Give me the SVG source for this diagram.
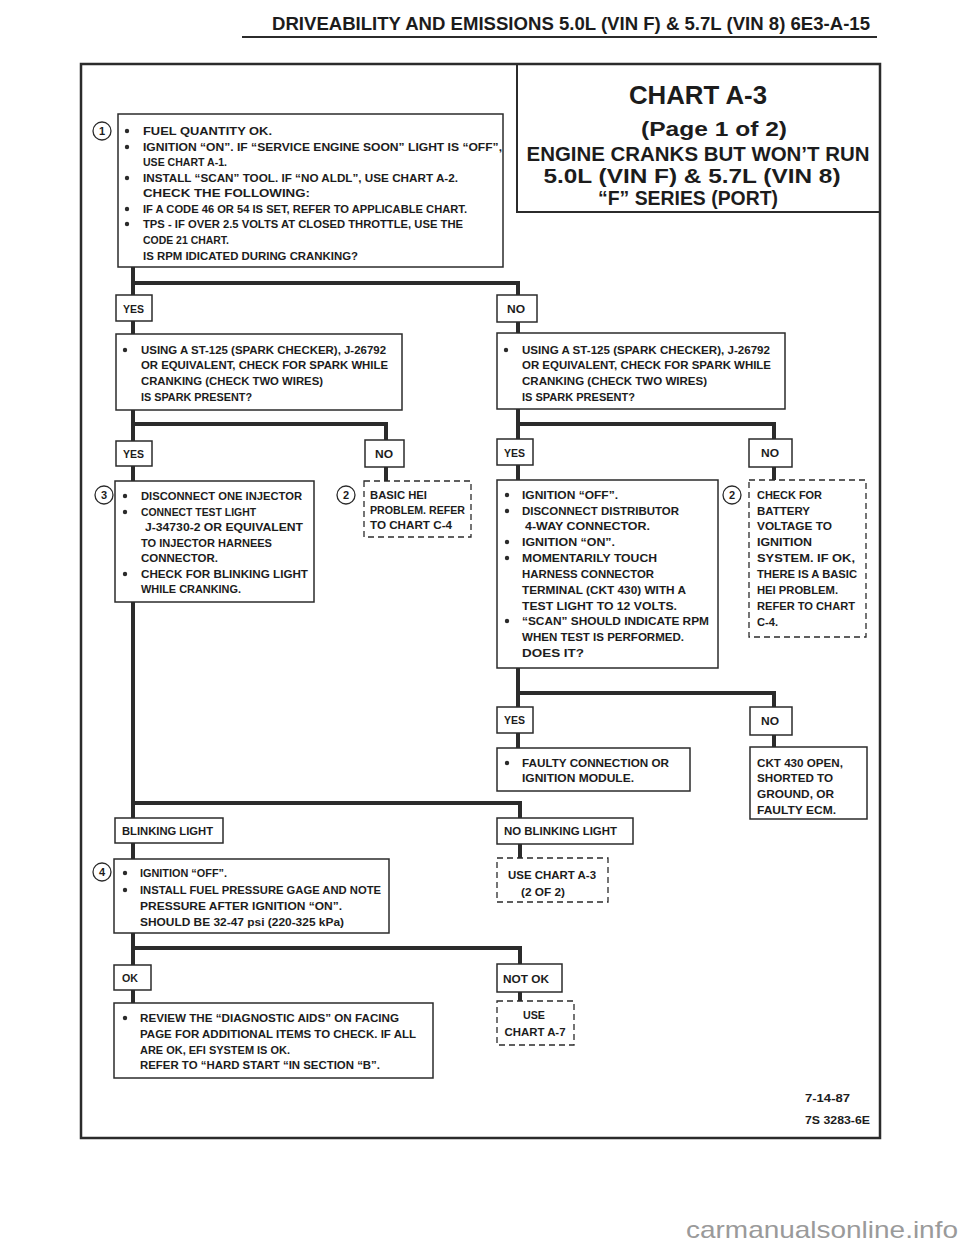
<svg xmlns="http://www.w3.org/2000/svg" width="960" height="1242" viewBox="0 0 960 1242">
<style>
.t{font-family:"Liberation Sans",Arial,sans-serif;font-weight:bold;font-size:11px;fill:#1c1c1c}
.h{font-family:"Liberation Sans",Arial,sans-serif;font-weight:bold;fill:#1c1c1c}
.box{fill:#fff;stroke:#2b2b2b;stroke-width:1.5}
.dash{fill:#fff;stroke:#2b2b2b;stroke-width:1.3;stroke-dasharray:6 4}
.conn{fill:none;stroke:#2b2b2b;stroke-width:4}
.frame{fill:none;stroke:#2b2b2b;stroke-width:2.5}
.cir{fill:#fff;stroke:#2b2b2b;stroke-width:1.3}
.b{fill:#2b2b2b}
.num{font-family:"Liberation Sans",Arial,sans-serif;font-weight:bold;font-size:11px;fill:#1c1c1c;text-anchor:middle}
</style>
<rect width="960" height="1242" fill="#fff"/>
<g id="header">
<text class="h" x="272" y="30" font-size="19" textLength="598" lengthAdjust="spacingAndGlyphs">DRIVEABILITY  AND  EMISSIONS  5.0L (VIN F)  &amp;  5.7L (VIN 8)  6E3-A-15</text>
<line x1="242" y1="37" x2="877" y2="37" stroke="#2b2b2b" stroke-width="2"/>
</g>
<rect class="frame" x="81" y="64" width="799" height="1074"/>
<g id="title">
<rect x="517" y="64" width="363" height="148" fill="none" stroke="#2b2b2b" stroke-width="2"/>
<text class="h" x="698" y="104" font-size="26" text-anchor="middle" textLength="138" lengthAdjust="spacingAndGlyphs">CHART A-3</text>
<text class="h" x="714" y="136" font-size="21" text-anchor="middle" textLength="146" lengthAdjust="spacingAndGlyphs">(Page 1 of 2)</text>
<text class="h" x="698" y="161" font-size="20" text-anchor="middle" textLength="343" lengthAdjust="spacingAndGlyphs">ENGINE CRANKS BUT WON’T RUN</text>
<text class="h" x="692" y="183" font-size="20" text-anchor="middle" textLength="297" lengthAdjust="spacingAndGlyphs">5.0L  (VIN F)  &amp;  5.7L (VIN 8)</text>
<text class="h" x="688" y="205" font-size="20" text-anchor="middle" textLength="180" lengthAdjust="spacingAndGlyphs">“F”  SERIES  (PORT)</text>
</g>
<g id="connectors">
<path class="conn" d="M133,267 V295 M133,283 H518 V295"/>
<path class="conn" d="M133,321 V334 M518,322 V333"/>
<path class="conn" d="M133,410 V441 M133,424 H386 V440"/>
<path class="conn" d="M518,409 V439 M518,424 H774 V439"/>
<path class="conn" d="M133,466 V481 M386,467 V481"/>
<path class="conn" d="M518,465 V480 M774,467 V480"/>
<path class="conn" d="M518,668 V707 M518,693 H774 V707"/>
<path class="conn" d="M518,733 V748 M774,735 V747"/>
<path class="conn" d="M133,602 V818 M133,803 H520 V818"/>
<path class="conn" d="M133,843 V859 M520,844 V858"/>
<path class="conn" d="M133,933 V965 M133,948 H520 V964"/>
<path class="conn" d="M133,990 V1003 M520,992 V1001"/>
</g>
<g id="step1">
<rect class="box" x="118" y="114" width="385" height="153"/>
<circle class="cir" cx="102" cy="131" r="9"/><text class="num" x="102" y="135">1</text>
<circle class="b" cx="127" cy="131" r="2.2"/>
<circle class="b" cx="127" cy="147" r="2.2"/>
<circle class="b" cx="127" cy="178" r="2.2"/>
<circle class="b" cx="127" cy="209" r="2.2"/>
<circle class="b" cx="127" cy="224" r="2.2"/>
<text class="t" x="143" y="135" textLength="129" lengthAdjust="spacingAndGlyphs">FUEL QUANTITY OK.</text>
<text class="t" x="143" y="151" textLength="359" lengthAdjust="spacingAndGlyphs">IGNITION  “ON”.  IF “SERVICE ENGINE SOON” LIGHT IS “OFF”,</text>
<text class="t" x="143" y="166" textLength="84" lengthAdjust="spacingAndGlyphs">USE CHART A-1.</text>
<text class="t" x="143" y="182" textLength="315" lengthAdjust="spacingAndGlyphs">INSTALL “SCAN” TOOL.  IF “NO ALDL”, USE CHART A-2.</text>
<text class="t" x="143" y="197" textLength="167" lengthAdjust="spacingAndGlyphs">CHECK THE FOLLOWING:</text>
<text class="t" x="143" y="213" textLength="324" lengthAdjust="spacingAndGlyphs">IF A CODE 46 OR 54 IS SET, REFER TO APPLICABLE CHART.</text>
<text class="t" x="143" y="228" textLength="320" lengthAdjust="spacingAndGlyphs">TPS - IF OVER 2.5 VOLTS AT CLOSED THROTTLE, USE THE</text>
<text class="t" x="143" y="244" textLength="86" lengthAdjust="spacingAndGlyphs">CODE 21 CHART.</text>
<text class="t" x="143" y="260" textLength="215" lengthAdjust="spacingAndGlyphs">IS RPM IDICATED DURING CRANKING?</text>
</g>
<g id="yes1"><rect class="box" x="116" y="295" width="36" height="26"/><text class="t" x="123" y="313" textLength="21" lengthAdjust="spacingAndGlyphs">YES</text></g>
<g id="no1"><rect class="box" x="497" y="295" width="40" height="27"/><text class="t" x="507" y="313" textLength="18" lengthAdjust="spacingAndGlyphs">NO</text></g>
<g id="sparkL">
<rect class="box" x="116" y="334" width="286" height="76"/>
<circle class="b" cx="125" cy="350" r="2.2"/>
<text class="t" x="141" y="354" textLength="245" lengthAdjust="spacingAndGlyphs">USING A ST-125 (SPARK CHECKER), J-26792</text>
<text class="t" x="141" y="369" textLength="247" lengthAdjust="spacingAndGlyphs">OR EQUIVALENT, CHECK FOR SPARK WHILE</text>
<text class="t" x="141" y="385" textLength="182" lengthAdjust="spacingAndGlyphs">CRANKING (CHECK TWO WIRES)</text>
<text class="t" x="141" y="401" textLength="111" lengthAdjust="spacingAndGlyphs">IS SPARK PRESENT?</text>
</g>
<g id="sparkR">
<rect class="box" x="497" y="333" width="288" height="76"/>
<circle class="b" cx="506" cy="350" r="2.2"/>
<text class="t" x="522" y="354" textLength="248" lengthAdjust="spacingAndGlyphs">USING A ST-125 (SPARK CHECKER), J-26792</text>
<text class="t" x="522" y="369" textLength="249" lengthAdjust="spacingAndGlyphs">OR EQUIVALENT, CHECK FOR SPARK WHILE</text>
<text class="t" x="522" y="385" textLength="185" lengthAdjust="spacingAndGlyphs">CRANKING (CHECK TWO WIRES)</text>
<text class="t" x="522" y="401" textLength="113" lengthAdjust="spacingAndGlyphs">IS SPARK PRESENT?</text>
</g>
<g id="yes2"><rect class="box" x="116" y="441" width="36" height="25"/><text class="t" x="123" y="458" textLength="21" lengthAdjust="spacingAndGlyphs">YES</text></g>
<g id="no2"><rect class="box" x="365" y="440" width="39" height="27"/><text class="t" x="375" y="458" textLength="18" lengthAdjust="spacingAndGlyphs">NO</text></g>
<g id="yes3"><rect class="box" x="497" y="439" width="36" height="26"/><text class="t" x="504" y="457" textLength="21" lengthAdjust="spacingAndGlyphs">YES</text></g>
<g id="no3"><rect class="box" x="749" y="439" width="43" height="28"/><text class="t" x="761" y="457" textLength="18" lengthAdjust="spacingAndGlyphs">NO</text></g>
<g id="step3">
<rect class="box" x="115" y="481" width="199" height="121"/>
<circle class="cir" cx="104" cy="495" r="9"/><text class="num" x="104" y="499">3</text>
<circle class="b" cx="125" cy="496" r="2.2"/>
<circle class="b" cx="125" cy="512" r="2.2"/>
<circle class="b" cx="125" cy="574" r="2.2"/>
<text class="t" x="141" y="500" textLength="161" lengthAdjust="spacingAndGlyphs">DISCONNECT ONE INJECTOR</text>
<text class="t" x="141" y="516" textLength="115" lengthAdjust="spacingAndGlyphs">CONNECT TEST LIGHT</text>
<text class="t" x="145" y="531" textLength="158" lengthAdjust="spacingAndGlyphs">J-34730-2 OR EQUIVALENT</text>
<text class="t" x="141" y="547" textLength="131" lengthAdjust="spacingAndGlyphs">TO INJECTOR HARNEES</text>
<text class="t" x="141" y="562" textLength="77" lengthAdjust="spacingAndGlyphs">CONNECTOR.</text>
<text class="t" x="141" y="578" textLength="167" lengthAdjust="spacingAndGlyphs">CHECK FOR BLINKING LIGHT</text>
<text class="t" x="141" y="593" textLength="100" lengthAdjust="spacingAndGlyphs">WHILE CRANKING.</text>
</g>
<g id="basicHEI">
<rect class="dash" x="364" y="481" width="107" height="56"/>
<circle class="cir" cx="346" cy="495" r="9"/><text class="num" x="346" y="499">2</text>
<text class="t" x="370" y="499" textLength="57" lengthAdjust="spacingAndGlyphs">BASIC HEI</text>
<text class="t" x="370" y="514" textLength="95" lengthAdjust="spacingAndGlyphs">PROBLEM.  REFER</text>
<text class="t" x="370" y="529" textLength="82" lengthAdjust="spacingAndGlyphs">TO CHART C-4</text>
</g>
<g id="step4R">
<rect class="box" x="497" y="480" width="221" height="188"/>
<circle class="b" cx="507" cy="495" r="2.2"/>
<circle class="b" cx="507" cy="511" r="2.2"/>
<circle class="b" cx="507" cy="542" r="2.2"/>
<circle class="b" cx="507" cy="558" r="2.2"/>
<circle class="b" cx="507" cy="621" r="2.2"/>
<text class="t" x="522" y="499" textLength="96" lengthAdjust="spacingAndGlyphs">IGNITION “OFF”.</text>
<text class="t" x="522" y="515" textLength="157" lengthAdjust="spacingAndGlyphs">DISCONNECT DISTRIBUTOR</text>
<text class="t" x="525" y="530" textLength="125" lengthAdjust="spacingAndGlyphs">4-WAY CONNECTOR.</text>
<text class="t" x="522" y="546" textLength="93" lengthAdjust="spacingAndGlyphs">IGNITION “ON”.</text>
<text class="t" x="522" y="562" textLength="135" lengthAdjust="spacingAndGlyphs">MOMENTARILY TOUCH</text>
<text class="t" x="522" y="578" textLength="132" lengthAdjust="spacingAndGlyphs">HARNESS CONNECTOR</text>
<text class="t" x="522" y="594" textLength="164" lengthAdjust="spacingAndGlyphs">TERMINAL (CKT 430) WITH A</text>
<text class="t" x="522" y="610" textLength="155" lengthAdjust="spacingAndGlyphs">TEST LIGHT TO 12 VOLTS.</text>
<text class="t" x="522" y="625" textLength="187" lengthAdjust="spacingAndGlyphs">“SCAN” SHOULD INDICATE RPM</text>
<text class="t" x="522" y="641" textLength="162" lengthAdjust="spacingAndGlyphs">WHEN TEST IS PERFORMED.</text>
<text class="t" x="522" y="657" textLength="62" lengthAdjust="spacingAndGlyphs">DOES IT?</text>
</g>
<g id="checkFor">
<rect class="dash" x="749" y="480" width="117" height="157"/>
<circle class="cir" cx="732" cy="495" r="9"/><text class="num" x="732" y="499">2</text>
<text class="t" x="757" y="499" textLength="65" lengthAdjust="spacingAndGlyphs">CHECK FOR</text>
<text class="t" x="757" y="515" textLength="53" lengthAdjust="spacingAndGlyphs">BATTERY</text>
<text class="t" x="757" y="530" textLength="75" lengthAdjust="spacingAndGlyphs">VOLTAGE TO</text>
<text class="t" x="757" y="546" textLength="55" lengthAdjust="spacingAndGlyphs">IGNITION</text>
<text class="t" x="757" y="562" textLength="98" lengthAdjust="spacingAndGlyphs">SYSTEM.  IF OK,</text>
<text class="t" x="757" y="578" textLength="100" lengthAdjust="spacingAndGlyphs">THERE IS A BASIC</text>
<text class="t" x="757" y="594" textLength="81" lengthAdjust="spacingAndGlyphs">HEI PROBLEM.</text>
<text class="t" x="757" y="610" textLength="98" lengthAdjust="spacingAndGlyphs">REFER TO CHART</text>
<text class="t" x="757" y="626" textLength="21" lengthAdjust="spacingAndGlyphs">C-4.</text>
</g>
<g id="yes4"><rect class="box" x="497" y="707" width="36" height="26"/><text class="t" x="504" y="724" textLength="21" lengthAdjust="spacingAndGlyphs">YES</text></g>
<g id="no4"><rect class="box" x="750" y="707" width="42" height="28"/><text class="t" x="761" y="725" textLength="18" lengthAdjust="spacingAndGlyphs">NO</text></g>
<g id="faulty">
<rect class="box" x="497" y="748" width="193" height="43"/>
<circle class="b" cx="507" cy="763" r="2.2"/>
<text class="t" x="522" y="767" textLength="147" lengthAdjust="spacingAndGlyphs">FAULTY CONNECTION OR</text>
<text class="t" x="522" y="782" textLength="112" lengthAdjust="spacingAndGlyphs">IGNITION MODULE.</text>
</g>
<g id="ckt430">
<rect class="box" x="750" y="747" width="117" height="72"/>
<text class="t" x="757" y="767" textLength="86" lengthAdjust="spacingAndGlyphs">CKT 430 OPEN,</text>
<text class="t" x="757" y="782" textLength="76" lengthAdjust="spacingAndGlyphs">SHORTED TO</text>
<text class="t" x="757" y="798" textLength="77" lengthAdjust="spacingAndGlyphs">GROUND, OR</text>
<text class="t" x="757" y="814" textLength="79" lengthAdjust="spacingAndGlyphs">FAULTY ECM.</text>
</g>
<g id="blinking"><rect class="box" x="115" y="818" width="108" height="25"/><text class="t" x="122" y="835" textLength="91" lengthAdjust="spacingAndGlyphs">BLINKING LIGHT</text></g>
<g id="noBlinking"><rect class="box" x="497" y="818" width="136" height="26"/><text class="t" x="504" y="835" textLength="113" lengthAdjust="spacingAndGlyphs">NO BLINKING LIGHT</text></g>
<g id="useA3">
<rect class="dash" x="497" y="858" width="111" height="44"/>
<text class="t" x="552" y="879" text-anchor="middle" textLength="88" lengthAdjust="spacingAndGlyphs">USE CHART A-3</text>
<text class="t" x="543" y="896" text-anchor="middle" textLength="44" lengthAdjust="spacingAndGlyphs">(2 OF 2)</text>
</g>
<g id="step4">
<rect class="box" x="114" y="859" width="275" height="74"/>
<circle class="cir" cx="102" cy="872" r="9"/><text class="num" x="102" y="876">4</text>
<circle class="b" cx="125" cy="873" r="2.2"/>
<circle class="b" cx="125" cy="890" r="2.2"/>
<text class="t" x="140" y="877" textLength="87" lengthAdjust="spacingAndGlyphs">IGNITION “OFF”.</text>
<text class="t" x="140" y="894" textLength="241" lengthAdjust="spacingAndGlyphs">INSTALL FUEL PRESSURE GAGE AND NOTE</text>
<text class="t" x="140" y="910" textLength="202" lengthAdjust="spacingAndGlyphs">PRESSURE AFTER IGNITION “ON”.</text>
<text class="t" x="140" y="926" textLength="204" lengthAdjust="spacingAndGlyphs">SHOULD BE  32-47 psi (220-325 kPa)</text>
</g>
<g id="ok"><rect class="box" x="114" y="965" width="37" height="25"/><text class="t" x="122" y="982" textLength="16" lengthAdjust="spacingAndGlyphs">OK</text></g>
<g id="notOk"><rect class="box" x="497" y="964" width="65" height="28"/><text class="t" x="503" y="983" textLength="46" lengthAdjust="spacingAndGlyphs">NOT OK</text></g>
<g id="useA7">
<rect class="dash" x="497" y="1001" width="77" height="44"/>
<text class="t" x="534" y="1019" text-anchor="middle" textLength="22" lengthAdjust="spacingAndGlyphs">USE</text>
<text class="t" x="535" y="1036" text-anchor="middle" textLength="61" lengthAdjust="spacingAndGlyphs">CHART A-7</text>
</g>
<g id="review">
<rect class="box" x="114" y="1003" width="319" height="75"/>
<circle class="b" cx="125" cy="1018" r="2.2"/>
<text class="t" x="140" y="1022" textLength="259" lengthAdjust="spacingAndGlyphs">REVIEW THE “DIAGNOSTIC AIDS” ON FACING</text>
<text class="t" x="140" y="1038" textLength="276" lengthAdjust="spacingAndGlyphs">PAGE FOR ADDITIONAL ITEMS TO CHECK.  IF ALL</text>
<text class="t" x="140" y="1054" textLength="150" lengthAdjust="spacingAndGlyphs">ARE OK, EFI SYSTEM IS OK.</text>
<text class="t" x="140" y="1069" textLength="240" lengthAdjust="spacingAndGlyphs">REFER TO “HARD START “IN SECTION “B”.</text>
</g>
<g id="footer">
<text class="t" x="805" y="1102" textLength="45" lengthAdjust="spacingAndGlyphs">7-14-87</text>
<text class="t" x="805" y="1124" textLength="65" lengthAdjust="spacingAndGlyphs">7S 3283-6E</text>
<text x="686" y="1238" font-family="Liberation Sans,Arial,sans-serif" font-size="24" fill="#9a9a9a" textLength="272" lengthAdjust="spacingAndGlyphs">carmanualsonline.info</text>
</g>
</svg>
